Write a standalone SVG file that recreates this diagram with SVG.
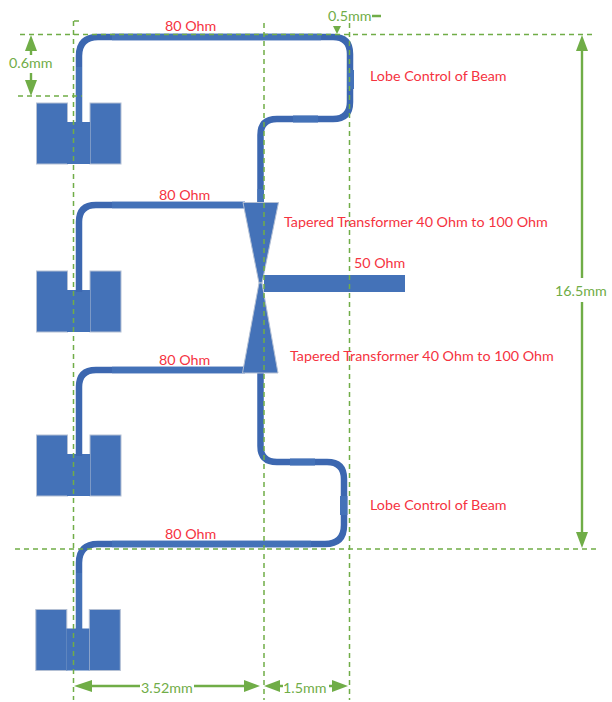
<svg xmlns="http://www.w3.org/2000/svg" width="612" height="702" viewBox="0 0 612 702">
<style>
.patch{fill:#4472b8;stroke:#b4c0d4;stroke-width:1}
.mid{fill:#4472b8}
.line{fill:none;stroke:#3c67b0;stroke-width:6.500}
.seg{fill:#4472b8}
.dash{fill:none;stroke:#70ad47;stroke-width:1.500;stroke-dasharray:5 4}
.dim{fill:none;stroke:#70ad47;stroke-width:2.400}
.ah{fill:#70ad47}
.r{font:14.300px Lato,"Liberation Sans",sans-serif;fill:#f5333f}
.g{font:14.300px Lato,"Liberation Sans",sans-serif;fill:#70ad47}
</style>
<defs>
<g id="ant">
<rect class="patch" x="36.500" y="0" width="31" height="61"/>
<rect class="patch" x="90" y="0" width="31" height="61"/>
<rect class="mid" x="67" y="19" width="23" height="42"/>
</g>
</defs>
<g id="antenna-1"><use href="#ant" y="103"/></g>
<g id="antenna-2"><use href="#ant" y="271"/></g>
<g id="antenna-3"><use href="#ant" y="435"/></g>
<g id="antenna-4"><use href="#ant" x="-0.700" y="609.500"/></g>
<g id="connectors">
<path class="line" d="M79 125V56Q79 37 98 37H333Q350 37 350 54V102Q350 119 333 119H277Q260.500 119 260.500 135V205"/>
<path class="line" d="M79 292V222Q79 205 96 205H245"/>
<path class="line" d="M79 456V387Q79 370 96 370H245"/>
<path class="line" d="M79 630V563Q79 544 98 544H325Q344 544 344 525V479Q344 462 327 462H277Q260.500 462 260.500 446V372"/>
<rect class="seg" x="112" y="33.750" width="209" height="6.500"/>
<rect class="seg" x="76" y="67" width="6" height="58"/>
<rect class="seg" x="347" y="70" width="7" height="19"/>
<rect class="seg" x="293" y="115.500" width="25" height="7"/>
<rect class="seg" x="112" y="201.750" width="133" height="6.500"/>
<rect class="seg" x="112" y="366.750" width="133" height="6.500"/>
<rect class="seg" x="290" y="458.500" width="25" height="7"/>
<rect class="seg" x="340" y="496" width="7.500" height="19"/>
<rect class="seg" x="112" y="540.750" width="199" height="6.500"/>
<rect class="seg" x="76" y="573" width="6" height="57"/>
<rect class="seg" x="257.500" y="189" width="6.500" height="15"/>
</g>
<g id="transformer-top"><polygon class="patch" points="243,202.500 278.500,202.500 262,283 259,283"/></g>
<g id="transformer-bottom"><polygon class="patch" points="242.500,373 278,373 262,283 259,283"/></g>
<g id="feed-50"><rect class="mid" x="264" y="275" width="141" height="17"/></g>
<g id="guides">
<path class="dash" d="M73.500 21V700M74 21H82M264 23V700M349.500 23V700M20 34.500H595M18 96H82M15 549H597"/>
</g>
<g id="dimensions">
<path class="dim" d="M31 50V55M31 73V82M582 50V278M582 302V535M90 686H140M194 686H248M276 686H283M329 686H336M372 16H381"/>
<polygon class="ah" points="31,35 25,51 37,51"/>
<polygon class="ah" points="31,96 25,80 37,80"/>
<polygon class="ah" points="582,35 576,51 588,51"/>
<polygon class="ah" points="582,548 576,532 588,532"/>
<polygon class="ah" points="74,686 92,680 92,692"/>
<polygon class="ah" points="260,686 244,680 244,692"/>
<polygon class="ah" points="264,686 280,680 280,692"/>
<polygon class="ah" points="348,686 332,680 332,692"/>
<polygon class="ah" points="337,34 333,26 341,26"/>
</g>
<g id="labels">
<text class="r" x="165" y="31">80 Ohm</text>
<text class="r" x="159" y="200">80 Ohm</text>
<text class="r" x="159" y="365">80 Ohm</text>
<text class="r" x="165" y="539">80 Ohm</text>
<text class="r" x="354" y="268">50 Ohm</text>
<text class="r" x="370" y="81">Lobe Control of Beam</text>
<text class="r" x="370" y="510">Lobe Control of Beam</text>
<text class="r" x="284" y="227">Tapered Transformer 40 Ohm to 100 Ohm</text>
<text class="r" x="290" y="361">Tapered Transformer 40 Ohm to 100 Ohm</text>
<text class="g" x="9" y="68">0.6mm</text>
<text class="g" x="328" y="21">0.5mm</text>
<text class="g" x="555" y="296">16.5mm</text>
<text class="g" x="141" y="693">3.52mm</text>
<text class="g" x="283" y="693">1.5mm</text>
</g>
</svg>
